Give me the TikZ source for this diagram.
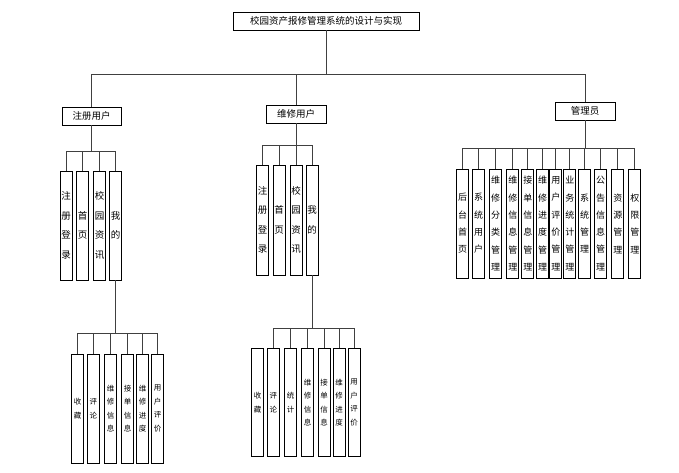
\documentclass[tikz,border=0pt]{standalone}
\usepackage{fontspec}
\newfontfamily\cjk{Noto Sans CJK SC}
\tikzset{
  hbox/.style={draw=black, line width=0.9pt, minimum height=18pt, inner sep=0pt, font=\cjk\fontsize{9.5}{11}\selectfont},
  vbox/.style={draw=black, line width=0.9pt, inner sep=0pt, align=center, minimum width=12pt},
  vbigA/.style={vbox, minimum height=109pt, font=\cjk\fontsize{9.5}{19.5}\selectfont},
  vadm/.style={vbox, minimum height=109pt, font=\cjk\fontsize{9}{17.3}\selectfont},
  vsmall/.style={vbox, minimum height=109pt, font=\cjk\fontsize{7.5}{13.5}\selectfont},
  conn/.style={draw=black!75, line width=0.8pt},
}
\begin{document}
\begin{tikzpicture}[x=1pt,y=-1pt]
\useasboundingbox (0,0) rectangle (679,472);
% top level
\node[hbox, minimum width=186pt] (title) at (326,21) {校园资产报修管理系统的设计与实现};
\node[hbox, minimum width=59pt] (zc) at (91.5,116) {注册用户};
\node[hbox, minimum width=60pt] (wx) at (296,114) {维修用户};
\node[hbox, minimum width=60pt] (gl) at (585,111) {管理员};
\coordinate (topbus) at (326,74.5);
\draw[conn] (title.south) -- (topbus);
\draw[conn] (zc.north) |- (topbus) -| (gl.north);
\draw[conn] (wx.north) -- (wx.north |- topbus);

% group A: 注册用户
\node[vbigA] (a1) at (66,225.5) {注\\册\\登\\录};
\node[vbigA] (a2) at (82.5,225.5) {首\\页};
\node[vbigA] (a3) at (99.5,225.5) {校\\园\\资\\讯};
\node[vbigA] (a4) at (115.5,225.5) {我\\的};
\coordinate (busA) at (91.5,151);
\draw[conn] (zc.south) -- (zc.south |- busA);
\foreach \n in {a1,a2,a3,a4} \draw[conn] (zc.south |- busA) -| (\n.north);

% lower A
\node[vsmall] (la1) at (77.5,408.5) {收\\藏};
\node[vsmall] (la2) at (93.3,408.5) {评\\论};
\node[vsmall] (la3) at (110.5,408.5) {维\\修\\信\\息};
\node[vsmall] (la4) at (127.5,408.5) {接\\单\\信\\息};
\node[vsmall] (la5) at (142.5,408.5) {维\\修\\进\\度};
\node[vsmall] (la6) at (157.5,408.5) {用\\户\\评\\价};
\coordinate (busLA) at (115.5,333);
\draw[conn] (a4.south) -- (a4.south |- busLA);
\foreach \n in {la1,la2,la3,la4,la5,la6} \draw[conn] (a4.south |- busLA) -| (\n.north);

% group B: 维修用户
\node[vbigA, minimum height=110pt] (b1) at (262.7,220) {注\\册\\登\\录};
\node[vbigA, minimum height=110pt] (b2) at (279,220) {首\\页};
\node[vbigA, minimum height=110pt] (b3) at (296,220) {校\\园\\资\\讯};
\node[vbigA, minimum height=110pt] (b4) at (312,220) {我\\的};
\coordinate (busB) at (296,145);
\draw[conn] (wx.south) -- (busB);
\foreach \n in {b1,b2,b3,b4} \draw[conn] (busB) -| (\n.north);

% lower B
\node[vsmall, minimum height=108.4pt] (lb0) at (257.5,402.5) {收\\藏};
\node[vsmall, minimum height=108.4pt] (lb1) at (273.3,402.5) {评\\论};
\node[vsmall, minimum height=108.4pt] (lb2) at (290.5,402.5) {统\\计};
\node[vsmall, minimum height=108.4pt] (lb3) at (307.5,402.5) {维\\修\\信\\息};
\node[vsmall, minimum height=108.4pt] (lb4) at (324,402.5) {接\\单\\信\\息};
\node[vsmall, minimum height=108.4pt] (lb5) at (339,402.5) {维\\修\\进\\度};
\node[vsmall, minimum height=108.4pt] (lb6) at (354,402.5) {用\\户\\评\\价};
\coordinate (busLB) at (312,328.3);
\draw[conn] (b4.south) -- (b4.south |- busLB);
\foreach \n in {lb1,lb2,lb3,lb4,lb5,lb6} \draw[conn] (b4.south |- busLB) -| (\n.north);

% group C: 管理员
\node[vadm] (c1) at (462.5,223.5) {后\\台\\首\\页};
\node[vadm] (c2) at (478.5,223.5) {系\\统\\用\\户};
\node[vadm] (c3) at (495.5,223.5) {维\\修\\分\\类\\管\\理};
\node[vadm] (c4) at (512.8,223.5) {维\\修\\信\\息\\管\\理};
\node[vadm] (c5) at (527.8,223.5) {接\\单\\信\\息\\管\\理};
\node[vadm] (c6) at (542.5,223.5) {维\\修\\进\\度\\管\\理};
\node[vadm] (c7) at (555.8,223.5) {用\\户\\评\\价\\管\\理};
\node[vadm] (c8) at (569.8,223.5) {业\\务\\统\\计\\管\\理};
\node[vadm] (c9) at (584.5,223.5) {系\\统\\管\\理};
\node[vadm] (c10) at (600.5,223.5) {公\\告\\信\\息\\管\\理};
\node[vadm] (c11) at (617.8,223.5) {资\\源\\管\\理};
\node[vadm] (c12) at (634.8,223.5) {权\\限\\管\\理};
\coordinate (busC) at (585,148.3);
\draw[conn] (gl.south) -- (busC);
\foreach \n in {c1,c2,c3,c4,c5,c6,c7,c8,c9,c10,c11,c12} \draw[conn] (busC) -| (\n.north);
\end{tikzpicture}
\end{document}
